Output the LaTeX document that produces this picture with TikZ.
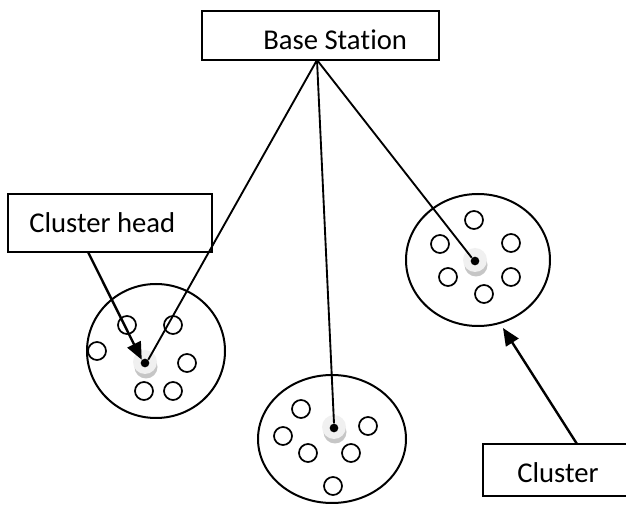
\documentclass[tikz,border=0pt]{standalone}
\usepackage{fontspec}
\setmainfont[Ligatures=NoCommon,RawFeature=-liga]{Carlito}
\usetikzlibrary{arrows.meta}
\begin{document}
\begin{tikzpicture}[x=0.75pt,y=-0.75pt,
  ln/.style={line width=1.5pt},
  thinln/.style={line width=1.4pt},
  txt/.style={anchor=base west,inner sep=0pt,font=\fontsize{21.5pt}{24pt}\selectfont},
  sensor/.style={circle,draw,line width=1.3pt,minimum size=18pt*0.75,inner sep=0pt},
  arr/.style={line width=1.8pt,-{Triangle[length=13pt,width=11pt]}}]
\useasboundingbox (0,0) rectangle (626,506);
\clip (0,0) rectangle (626,506);
\fill[white] (0,0) rectangle (626,506);
% label boxes
\draw[thinln] (202,11) rectangle (439,60);
\node[txt] (bst) at (263,50) {Base Sta\kern0pt tion};
\coordinate (bs) at (317,60);
\draw[thinln] (8,194) rectangle (212,252);
\node[txt] (cht) at (29,233) {Cluster head};
\coordinate (chb) at (88,252);
\draw[thinln] (483,444) rectangle (630,496);
\node[txt] (clt) at (517,483) {Cluster};
\coordinate (clb) at (577,444);
% clusters
\draw[ln] (156,351) ellipse [x radius=69, y radius=67];
\draw[ln] (332,439) ellipse [x radius=74, y radius=64];
\draw[ln] (478,260) ellipse [x radius=72, y radius=66];
% sensors
\foreach \p/\n in {(127,325)/a1,(173,325)/a2,(97,351)/a3,(187,363)/a4,(144,391)/a5,(173,391)/a6,
  (301,409)/b1,(283,436)/b2,(308,453)/b3,(368,426)/b4,(351,453)/b5,(333,486)/b6,
  (474,220)/c1,(440,244)/c2,(511,243)/c3,(448,277)/c4,(511,277)/c5,(484,294)/c6}
  \node[sensor] (\n) at \p {};
% cluster heads
\foreach \x/\y/\n in {145/362/hA,334/427/hB,475/260/hC}{
  \fill[gray!45] (\x+1,\y+5) circle (11.5);
  \fill[gray!12] (\x,\y) circle (12);
  \node[circle,fill=black,inner sep=0pt,minimum size=6.5pt] (\n) at (\x,\y+1) {};
}
% links
\draw[thinln] (bs) -- (hA.north east);
\draw[thinln] (bs) -- (hB.north);
\draw[thinln] (bs) -- (hC.north west);
% arrows
\draw[arr] (chb) -- (hA.north west);
\draw[arr] (clb) -- (503,328);
\end{tikzpicture}
\end{document}
